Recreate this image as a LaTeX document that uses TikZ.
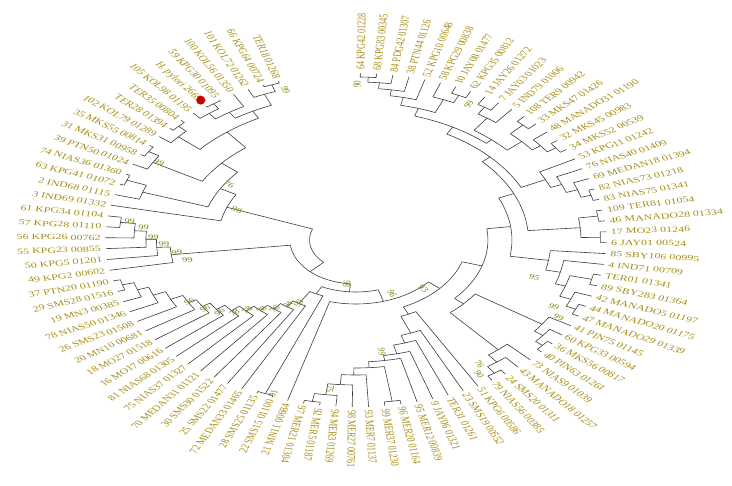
\documentclass[tikz,border=0pt]{standalone}
\usepackage{fontspec}
\setmainfont{Liberation Serif}
\definecolor{labc}{RGB}{165,140,20}
\definecolor{bsc}{RGB}{125,130,10}
\definecolor{brc}{RGB}{60,60,60}
\tikzset{
 br/.style={draw=brc, line width=0.6pt},
 lab/.style={text=labc, font=\fontsize{8}{9}\selectfont, inner sep=0pt, transform shape},
 bsl/.style={text=bsc, font=\fontsize{7}{8}\selectfont, inner sep=0pt, transform shape},
 dot/.style={circle, fill={rgb,255:red,200;green,0;blue,0}, minimum size=9pt, inner sep=0pt},
}
\newcommand\dA{3.747}
\newcount\bscount
\newcommand\lf[3]{%
 \pgfmathsetmacro\angT{89-(#1-1)*\dA}%
 \draw[br] (\angT:#2pt) -- (\angT:167pt);%
 \ifnum#1<53\relax
   \node[lab,anchor=west,rotate=\angT] (t#1) at (\angT:170pt) {#3};%
 \else
   \pgfmathsetmacro\angF{\angT+180}%
   \node[lab,anchor=east,rotate=\angF] (t#1) at (\angT:170pt) {#3};%
 \fi}
\newcommand\nd[4]{%
 \pgfmathsetmacro\angA{89-(#1-1)*\dA}%
 \pgfmathsetmacro\angB{89-(#2-1)*\dA}%
 \pgfmathsetmacro\angM{(\angA+\angB)/2}%
 \draw[br] (\angA:#3pt) arc[start angle=\angA, end angle=\angB, radius=#3pt];%
 \draw[br] (\angM:#4pt) -- (\angM:#3pt);}
\newcommand\bs[3]{%
 \global\advance\bscount by 1
 \pgfmathsetmacro\angR{(#1>90||#1<-104)?(#1+180):(#1)}%
 \node[bsl,rotate=\angR] (b\the\bscount) at (#1:#2pt) {#3};}
\begin{document}
\begin{tikzpicture}[xscale=1.5]
\useasboundingbox (-237.3pt,-246pt) rectangle (250.7pt,240pt);
% ---- upper right clades ----
\nd{1}{2}{163}{158}
\nd{1.5}{3}{158}{152}
\nd{2.25}{4}{152}{146}
\nd{3.125}{5}{146}{138}
\nd{7}{8}{160}{152}
\nd{6}{7.5}{152}{138}
\nd{4.0625}{6.75}{138}{130}
\nd{9}{10}{158}{150}
\nd{9.5}{11}{150}{135}
\nd{12}{13}{160}{148}
\nd{15}{16}{162}{155}
\nd{14}{15.5}{155}{148}
\nd{12.5}{14.75}{148}{135}
\nd{10.25}{13.625}{135}{130}
\nd{5.406}{11.9375}{130}{122}
\nd{20}{21}{163}{156}
\nd{19}{20.5}{156}{148}
\nd{18}{19.75}{148}{140}
\nd{17}{18.875}{140}{122}
\nd{8.672}{17.9375}{122}{115}
\nd{22}{23}{163}{150}
\nd{24}{25}{163}{150}
\nd{22.5}{24.5}{150}{115}
\nd{13.305}{23.5}{115}{104}
\nd{28}{29}{162}{147}
\nd{31}{32}{162}{155}
\nd{30}{31.5}{155}{147}
\nd{28.5}{30.75}{147}{140}
\nd{27}{29.625}{140}{130}
\nd{26}{28.3125}{130}{104}
\nd{18.40}{27.156}{104}{88}
% ---- G, H ----
\nd{35}{36}{163}{157}
\nd{34}{35.5}{157}{150}
\nd{33}{34.75}{150}{96}
\nd{39}{40}{162}{154}
\nd{38}{39.5}{154}{145}
\nd{37}{38.75}{145}{96}
\nd{33.875}{37.875}{96}{88}
\nd{22.78}{35.875}{88}{74}
% ---- MER ladder ----
\nd{51}{52}{164}{156}
\nd{50}{51.5}{156}{145}
\nd{49}{50.75}{145}{135}
\nd{48}{49.875}{135}{128}
\nd{46}{47}{163}{128}
\nd{46.5}{48.9375}{128}{122}
\nd{45}{47.72}{122}{117}
\nd{44}{46.36}{117}{108}
\nd{43}{45.18}{108}{100}
\nd{42}{44.09}{100}{82}
\nd{41}{43.045}{82}{74}
\nd{29.33}{42.02}{74}{64}
\nd{35.675}{53}{64}{52}
% ---- J, K ----
\nd{54}{55}{165}{60}
\nd{68}{69}{162}{154}
\nd{67}{68.5}{154}{146}
\nd{66}{67.75}{146}{137}
\nd{65}{66.875}{137}{128}
\nd{64}{65.9375}{128}{122}
\nd{63}{64.97}{122}{116}
\nd{62}{63.98}{116}{109}
\nd{61}{62.99}{109}{102}
\nd{60}{62.0}{102}{95}
\nd{59}{61.0}{95}{88}
\nd{58}{60.0}{88}{81}
\nd{57}{59.0}{81}{74}
\nd{56}{58.0}{74}{60}
\nd{54.5}{57.0}{60}{52}
\nd{44.34}{55.75}{52}{44}
% ---- L ----
\nd{74}{75}{158}{148}
\nd{73}{74.5}{148}{140}
\nd{72}{73.75}{140}{133}
\nd{71}{72.875}{133}{124}
\nd{70}{71.94}{124}{44}
\nd{50.05}{70.97}{44}{31}
% ---- M, N ----
\nd{78}{79}{164}{150}
\nd{77}{78.5}{150}{104}
\nd{81}{82}{164}{156}
\nd{80}{81.5}{156}{118}
\nd{91}{92}{165}{158}
\nd{90}{91.5}{158}{146}
\nd{87}{88}{166}{160}
\nd{86}{87.5}{160}{153}
\nd{86.75}{89}{153}{146}
\nd{87.875}{90.75}{146}{138}
\nd{84}{85}{164}{157}
\nd{83}{84.5}{157}{138}
\nd{83.75}{89.31}{138}{118}
\nd{80.75}{86.53}{118}{104}
\nd{77.75}{83.64}{104}{92}
\nd{76}{80.70}{92}{31}
% ---- root ----
\nd{60.51}{78.35}{31}{31}
% ---- leaves ----
\lf{1}{163}{64 KPG42 01228}
\lf{2}{163}{68 KPG83 00345}
\lf{3}{158}{84 PDG42 01307}
\lf{4}{152}{38 PTN44 01126}
\lf{5}{146}{52 KPG10 00648}
\lf{6}{152}{58 KPG29 00838}
\lf{7}{160}{10 JAY08 01477}
\lf{8}{160}{62 KPG35 00812}
\lf{9}{158}{14 JAY26 01272}
\lf{10}{158}{7 JAY03 01023}
\lf{11}{150}{5 IND79 01006}
\lf{12}{160}{108 TER9 00942}
\lf{13}{160}{33 MKS47 01426}
\lf{14}{155}{48 MANADO31 01190}
\lf{15}{162}{32 MKS45 00983}
\lf{16}{162}{34 MKS52 00539}
\lf{17}{140}{53 KPG11 01242}
\lf{18}{148}{76 NIAS40 01409}
\lf{19}{156}{69 MEDAN18 01394}
\lf{20}{163}{82 NIAS73 01218}
\lf{21}{163}{83 NIAS75 01341}
\lf{22}{163}{109 TER81 01054}
\lf{23}{163}{46 MANADO28 01334}
\lf{24}{163}{17 MO23 01246}
\lf{25}{163}{6 JAY01 00524}
\lf{26}{130}{85 SBY106 00995}
\lf{27}{140}{4 IND71 00709}
\lf{28}{162}{TER01 01341}
\lf{29}{162}{89 SBY283 01364}
\lf{30}{155}{42 MANADO5 01197}
\lf{31}{162}{44 MANADO20 01175}
\lf{32}{162}{47 MANADO29 01339}
\lf{33}{150}{41 PIN75 01145}
\lf{34}{157}{60 KPG33 00594}
\lf{35}{163}{36 MKS56 00817}
\lf{36}{163}{40 PIN63 01261}
\lf{37}{145}{73 NIAS9 01039}
\lf{38}{154}{43 MANADO18 01257}
\lf{39}{162}{24 SMS20 01311}
\lf{40}{162}{79 NIAS56 00385}
\lf{41}{82}{51 KPG6 00586}
\lf{42}{100}{23 SMS19 00552}
\lf{43}{108}{TER31 01261}
\lf{44}{117}{9 JAY06 01321}
\lf{45}{122}{95 MER12 00839}
\lf{46}{163}{96 MER20 01164}
\lf{47}{163}{99 MER37 01230}
\lf{48}{135}{93 MER7 01137}
\lf{49}{145}{98 MER27 00761}
\lf{50}{156}{94 MER3 01269}
\lf{51}{164}{92 MER5 01187}
\lf{52}{164}{97 MER21 01304}
\lf{53}{64}{21 MN11 00684}
\lf{54}{165}{22 SMS15 01100}
\lf{55}{165}{28 SMS25 01135}
\lf{56}{74}{72 MEDAN33 01465}
\lf{57}{81}{25 SMS22 01477}
\lf{58}{88}{30 SMS30 01522}
\lf{59}{95}{70 MEDAN31 01121}
\lf{60}{102}{75 NIAS37 01327}
\lf{61}{109}{81 NIAS68 01305}
\lf{62}{116}{16 MO17 00616}
\lf{63}{122}{18 MO27 01518}
\lf{64}{128}{20 MN10 00681}
\lf{65}{137}{26 SMS23 01508}
\lf{66}{146}{78 NIAS50 01346}
\lf{67}{154}{19 MN3 00385}
\lf{68}{162}{29 SMS28 01516}
\lf{69}{162}{37 PTN20 01190}
\lf{70}{124}{49 KPG2 00602}
\lf{71}{133}{50 KPG5 01201}
\lf{72}{140}{55 KPG23 00855}
\lf{73}{148}{56 KPG26 00762}
\lf{74}{158}{57 KPG28 01110}
\lf{75}{158}{61 KPG34 01104}
\lf{76}{92}{3 IND69 01332}
\lf{77}{150}{2 IND68 01115}
\lf{78}{164}{63 KPG41 01072}
\lf{79}{164}{74 NIAS36 01360}
\lf{80}{156}{39 PTN50 01024}
\lf{81}{164}{31 MKS31 00958}
\lf{82}{164}{35 MKS55 00814}
\lf{83}{157}{102 KOL79 01289}
\lf{84}{164}{TER28 01394}
\lf{85}{164}{TER35 00804}
\lf{86}{160}{105 KOL98 01195}
\lf{87}{166}{H. pylori 26695}
\lf{88}{166}{59 KPG30 01095}
\lf{89}{153}{100 KOL56 01350}
\lf{90}{158}{101 KOL72 01262}
\lf{91}{165}{66 KPG64 00724}
\lf{92}{165}{TER18 01268}
\node[dot] (hp) at (126.5:174pt) {};
% ---- bootstrap values ----
\bs{89.7}{156}{90}
\bs{61}{155}{99}
\bs{107.4}{157}{99}
\bs{-17.3}{124.6}{95}
\bs{-26.9}{148}{99}
\bs{-29.7}{155.5}{99}
\bs{-56.5}{149}{76}
\bs{-58.5}{157}{90}
\bs{-81.2}{113}{99}
\bs{-96.6}{150}{75}
\bs{-109.7}{163.5}{91}
\bs{-47.4}{66.5}{93}
\bs{-66}{59}{96}
\bs{-97.8}{44.4}{98}
\bs{-151}{127}{96}
\bs{-145.6}{122}{96}
\bs{-141.6}{116}{96}
\bs{-138}{109}{78}
\bs{-136}{101}{78}
\bs{-132}{94}{78}
\bs{-128}{88}{78}
\bs{-125}{79}{94}
\bs{-121}{74}{99}
\bs{173}{152}{99}
\bs{175}{142}{99}
\bs{179}{135}{99}
\bs{-178}{128}{99}
\bs{-174}{120}{99}
\bs{-170}{114}{99}
\bs{149.3}{152.7}{99}
\bs{147}{101}{76}
\bs{159.3}{84.8}{98}
\end{tikzpicture}
\end{document}
